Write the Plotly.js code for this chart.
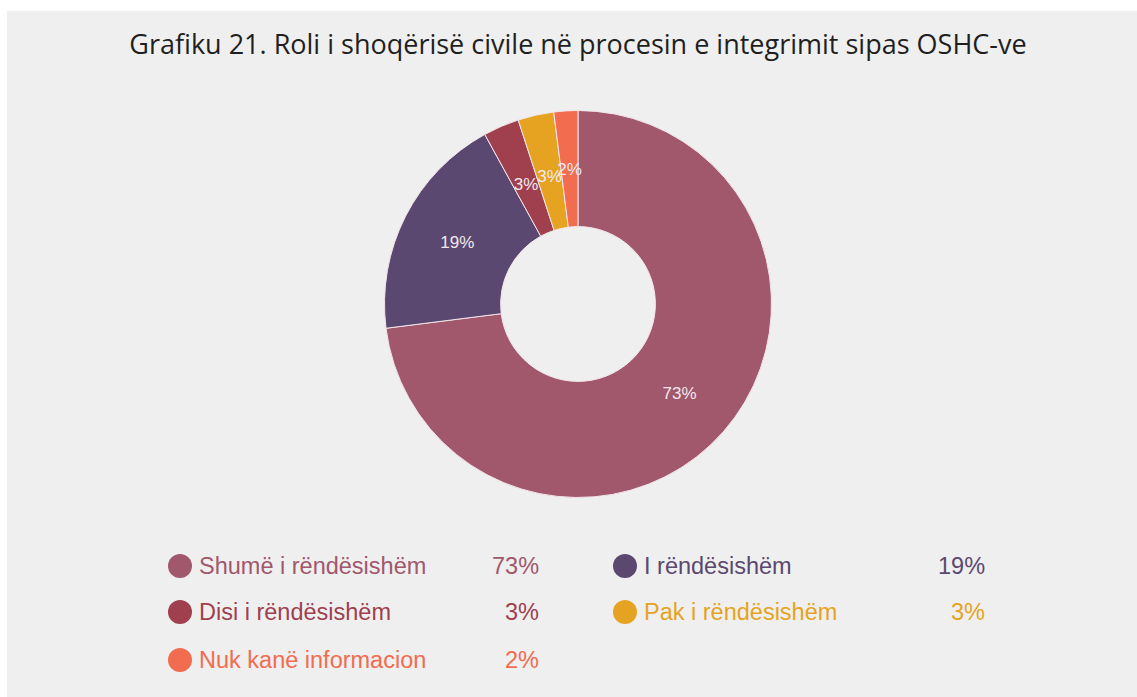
<!DOCTYPE html>
<html><head><meta charset="utf-8">
<script src="https://cdn.plot.ly/plotly-3.0.1.min.js"></script>
<style>html,body{margin:0;padding:0;background:#fff;}#chart{width:1137px;height:697px;}</style>
</head><body><div id="chart"></div>
<script>
const titleText = "Grafiku 21. Roli i shoqërisë civile në procesin e integrimit sipas OSHC-ve";
const labels = ["Shumë i rëndësishëm", "I rëndësishëm", "Disi i rëndësishëm", "Pak i rëndësishëm", "Nuk kanë informacion"];
const values = [73, 19, 3, 3, 2];
const colors = ["#a1576c", "#5b4870", "#a03f4e", "#e6a321", "#f26c50"];
// legend order (rows, left column then right column)
const legendOrder = [0, 1, 2, 3, 4];

const W = 1137, H = 697;
const px = x => x / W;
const py = y => 1 - y / H;
const cx = 578, cy0 = 304, R = 193.5, R2 = 143;
const isSmall = values.map(v => v < 10);
const labelFont = {family: 'Liberation Sans, Arial, sans-serif', size: 17, color: '#f1e9ee'};

const trace = {
  type: 'pie',
  labels: labels,
  values: values,
  sort: false,
  direction: 'clockwise',
  rotation: 0,
  hole: 0.40,
  marker: {colors: colors, line: {color: '#f3e6ec', width: 1}},
  texttemplate: isSmall.map(s => s ? '' : '%{value}%'),
  textposition: 'inside',
  insidetextorientation: 'horizontal',
  textfont: labelFont,
  hoverinfo: 'label+percent',
  domain: {x: [px(cx - R), px(cx + R)], y: [py(cy0 + R), py(cy0 - R)]},
  showlegend: false
};
// transparent overlay ring used only to place labels of the thin slices
const labelTrace = {
  type: 'pie',
  labels: labels,
  values: values,
  sort: false,
  direction: 'clockwise',
  rotation: 0,
  hole: 78 / R2,
  marker: {colors: colors.map(() => 'rgba(0,0,0,0)'), line: {width: 0}},
  texttemplate: isSmall.map(s => s ? '%{value}%' : ''),
  textposition: 'inside',
  insidetextorientation: 'horizontal',
  textfont: labelFont,
  hoverinfo: 'skip',
  domain: {x: [px(cx - R2), px(cx + R2)], y: [py(cy0 + R2), py(cy0 - R2)]},
  showlegend: false
};

const shapes = [
  {type: 'rect', xref: 'paper', yref: 'paper', x0: 0, x1: 1, y0: py(11), y1: 1, fillcolor: '#ffffff', line: {width: 0}, layer: 'below'},
  {type: 'rect', xref: 'paper', yref: 'paper', x0: 0, x1: px(7), y0: 0, y1: 1, fillcolor: '#ffffff', line: {width: 0}, layer: 'below'}
];
const annotations = [];
const colCircleX = [180, 625], colTextX = [197, 642], colPctX = [541, 987];
const rowY = [566, 612, 660];
const legFont = 'Liberation Sans, Arial, sans-serif';
legendOrder.forEach((idx, k) => {
  const col = k % 2, row = Math.floor(k / 2);
  const cy = rowY[row];
  shapes.push({type: 'circle', xref: 'paper', yref: 'paper', xsizemode: 'pixel', ysizemode: 'pixel',
    xanchor: px(colCircleX[col]), yanchor: py(cy), x0: -12, x1: 12, y0: -12, y1: 12,
    fillcolor: colors[idx], line: {width: 0}});
  annotations.push({xref: 'paper', yref: 'paper', x: px(colTextX[col]), y: py(cy), xanchor: 'left', yanchor: 'middle',
    text: labels[idx], showarrow: false, font: {family: legFont, size: 23.5, color: colors[idx]}});
  annotations.push({xref: 'paper', yref: 'paper', x: px(colPctX[col]), y: py(cy), xanchor: 'right', yanchor: 'middle',
    text: values[idx] + '%', showarrow: false, font: {family: legFont, size: 23.5, color: colors[idx]}});
});

const layout = {
  width: W, height: H,
  margin: {l: 0, r: 0, t: 0, b: 0},
  paper_bgcolor: '#efefef',
  plot_bgcolor: '#efefef',
  title: {text: titleText, x: px(578), xanchor: 'center', y: py(45), yanchor: 'middle',
    font: {family: 'Open Sans, sans-serif', size: 27, color: '#1f1f1f'}},
  uniformtext: {mode: 'show', minsize: 17},
  shapes: shapes,
  annotations: annotations,
  showlegend: false
};
Plotly.newPlot('chart', [trace, labelTrace], layout, {displayModeBar: false});
</script></body></html>
